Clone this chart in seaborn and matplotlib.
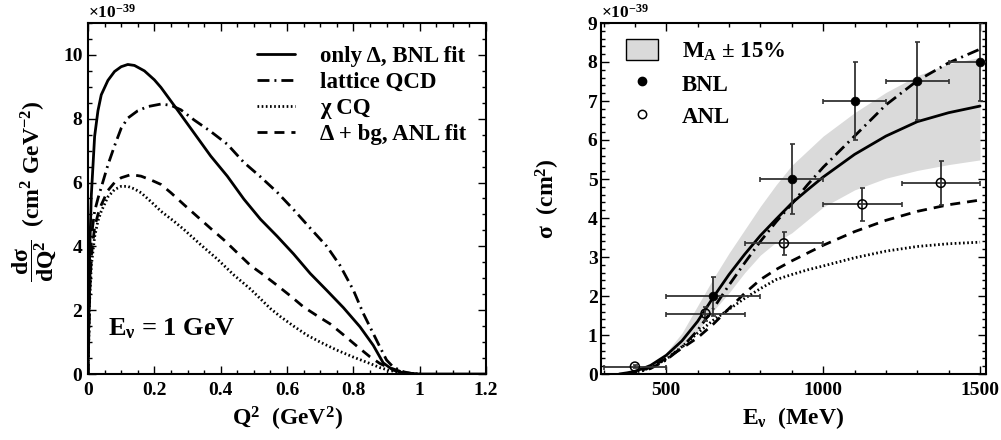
import numpy as np
import pandas as pd
import matplotlib
matplotlib.use("Agg")
import matplotlib.pyplot as plt
import seaborn as sns
from matplotlib.ticker import MultipleLocator
from matplotlib.lines import Line2D
from matplotlib.patches import Patch

# ---------------- left panel: dsigma/dQ^2 at E_nu = 1 GeV (units 1e-39) ----------------
q2_bnl = [0, 0.005, 0.01, 0.02, 0.03, 0.04, 0.06, 0.08, 0.10, 0.12, 0.14, 0.17, 0.20, 0.22,
          0.27, 0.32, 0.37, 0.42, 0.47, 0.52, 0.57, 0.62, 0.67, 0.72, 0.77, 0.82, 0.86, 0.89,
          0.92, 0.95, 0.98, 1.0, 1.2]
xs_bnl = [0, 3.8, 5.6, 7.45, 8.25, 8.75, 9.2, 9.48, 9.63, 9.7, 9.67, 9.5, 9.22, 8.98,
          8.27, 7.55, 6.83, 6.2, 5.48, 4.85, 4.32, 3.76, 3.15, 2.62, 2.08, 1.48, 0.9, 0.35,
          0.12, 0.04, 0.0, 0.0, 0.0]

q2_lqcd = [0, 0.005, 0.01, 0.02, 0.03, 0.04, 0.06, 0.08, 0.10, 0.12, 0.15, 0.18, 0.22, 0.25,
           0.28, 0.32, 0.37, 0.42, 0.47, 0.52, 0.57, 0.62, 0.67, 0.72, 0.76, 0.80, 0.83, 0.86,
           0.88, 0.90, 0.92, 0.95, 0.98, 1.0]
xs_lqcd = [0, 2.8, 4.3, 5.1, 5.5, 5.85, 6.55, 7.15, 7.7, 8.02, 8.25, 8.38, 8.46, 8.42,
           8.28, 7.96, 7.6, 7.2, 6.63, 6.18, 5.7, 5.15, 4.57, 4.0, 3.4, 2.63, 1.9, 1.27,
           0.85, 0.44, 0.22, 0.07, 0.01, 0.0]

q2_ccq = [0, 0.005, 0.01, 0.02, 0.03, 0.04, 0.06, 0.08, 0.10, 0.12, 0.14, 0.16, 0.19, 0.22,
          0.26, 0.29, 0.34, 0.39, 0.44, 0.49, 0.55, 0.58, 0.62, 0.66, 0.70, 0.75, 0.80, 0.85,
          0.88, 0.91, 0.94, 0.97, 1.0]
xs_ccq = [0, 2.3, 3.4, 4.3, 4.8, 5.1, 5.55, 5.78, 5.88, 5.88, 5.8, 5.68, 5.4, 5.1,
          4.78, 4.52, 4.05, 3.6, 3.1, 2.66, 2.05, 1.8, 1.5, 1.22, 1.0, 0.75, 0.53, 0.33,
          0.2, 0.11, 0.05, 0.01, 0.0]

q2_anl = [0, 0.005, 0.01, 0.02, 0.03, 0.04, 0.06, 0.08, 0.10, 0.13, 0.16, 0.19, 0.22, 0.25,
          0.29, 0.33, 0.37, 0.41, 0.45, 0.49, 0.53, 0.57, 0.61, 0.65, 0.69, 0.73, 0.77, 0.81,
          0.85, 0.88, 0.90, 0.92, 0.95, 0.98, 1.0]
xs_anl = [0, 2.5, 3.7, 4.6, 5.0, 5.3, 5.75, 6.0, 6.15, 6.25, 6.2, 6.08, 5.94, 5.68,
          5.3, 4.93, 4.56, 4.2, 3.8, 3.4, 3.1, 2.78, 2.45, 2.1, 1.83, 1.57, 1.23, 0.88,
          0.54, 0.33, 0.23, 0.16, 0.05, 0.01, 0.0]

left_labels = ["only Δ, BNL fit", "lattice QCD", "χ CQ", "Δ + bg, ANL fit"]

# ---------------- right panel: total cross section vs E_nu (units 1e-39 cm^2) ----------------
e_bnl = [350, 375, 400, 425, 450, 500, 550, 600, 650, 700, 750, 800, 850, 900, 950, 1000,
         1100, 1200, 1300, 1400, 1500]
sig_bnl = [0, 0.03, 0.07, 0.14, 0.22, 0.48, 0.85, 1.35, 1.97, 2.55, 3.07, 3.55, 3.97, 4.38,
           4.72, 5.05, 5.63, 6.1, 6.47, 6.7, 6.87]

e_lqcd = [370, 400, 450, 500, 550, 600, 650, 700, 750, 800, 850, 900, 950, 1000, 1100, 1200,
          1300, 1400, 1500]
sig_lqcd = [0, 0.03, 0.14, 0.36, 0.68, 1.12, 1.68, 2.28, 2.85, 3.4, 3.9, 4.36, 4.85, 5.3,
            6.1, 6.9, 7.52, 7.98, 8.33]

e_anl = [370, 400, 450, 500, 550, 600, 650, 700, 750, 800, 850, 900, 1000, 1100, 1200, 1300,
         1400, 1500]
sig_anl = [0, 0.04, 0.17, 0.4, 0.66, 0.93, 1.28, 1.68, 2.07, 2.42, 2.68, 2.9, 3.3, 3.65,
           3.94, 4.17, 4.34, 4.46]

e_ccq = [370, 400, 450, 500, 550, 600, 650, 700, 750, 800, 850, 900, 950, 1000, 1100, 1200,
         1300, 1400, 1500]
sig_ccq = [0, 0.04, 0.16, 0.38, 0.7, 1.05, 1.38, 1.66, 1.94, 2.19, 2.42, 2.55, 2.67, 2.77,
           2.98, 3.15, 3.27, 3.34, 3.38]

# M_A +- 15% band
e_band = [500, 550, 600, 650, 700, 750, 800, 850, 900, 1000, 1100, 1200, 1300, 1400, 1500]
band_hi = [0.55, 1.05, 1.75, 2.45, 3.1, 3.7, 4.3, 4.85, 5.35, 6.1, 6.7, 7.22, 7.65, 7.95, 8.12]
band_lo = [0.45, 0.72, 1.1, 1.62, 2.08, 2.6, 3.05, 3.38, 3.62, 4.28, 4.72, 5.02, 5.22, 5.37, 5.49]

# BNL data (filled) and ANL data (open)
bnl_e = [650, 900, 1100, 1300, 1500]
bnl_sig = [2.0, 5.0, 7.0, 7.5, 8.0]
bnl_xerr = [150, 100, 100, 100, 100]
bnl_yerr = [0.5, 0.9, 1.0, 1.0, 1.0]

anl_e = [400, 625, 875, 1125, 1375]
anl_sig = [0.19, 1.55, 3.35, 4.35, 4.9]
anl_xerr = [100, 125, 125, 125, 125]
anl_yerr = [0.03, 0.18, 0.3, 0.42, 0.56]

# ---------------- style ----------------
sns.set_theme(style="ticks")
plt.rcParams.update({
    "font.family": ["Liberation Serif", "DejaVu Serif"],
    "font.weight": "bold",
    "axes.labelweight": "bold",
    "mathtext.fontset": "custom",
    "mathtext.rm": "Liberation Serif:bold",
    "mathtext.it": "Liberation Serif:bold",
    "mathtext.bf": "Liberation Serif:bold",
    "mathtext.sf": "Liberation Serif",
    "mathtext.default": "rm",
    "axes.linewidth": 1.5,
    "axes.edgecolor": "black",
    "xtick.color": "black",
    "ytick.color": "black",
    "text.color": "black",
    "axes.labelcolor": "black",
})

LW = 2.0
LEG_FS = 16.5
dash_styles = {
    "solid": "-",
    "dashdot": (0, (4.3, 1.8, 0.7, 1.8)),
    "dotted": (0, (0.6, 0.9)),
    "dashed": (0, (3.6, 2.5)),
}

fig = plt.figure(figsize=(10.01, 4.40), dpi=100)
ax1 = fig.add_axes([88 / 1001, 66 / 440, 398 / 1001, 351 / 440])
ax2 = fig.add_axes([601 / 1001, 66 / 440, 385 / 1001, 351 / 440])


def style_axes(ax):
    ax.tick_params(which="both", direction="in", top=True, right=True,
                   labelsize=14, width=1.0)
    ax.tick_params(which="major", length=5.8)
    ax.tick_params(which="minor", length=2.9)
    for lab in ax.get_xticklabels() + ax.get_yticklabels():
        lab.set_fontweight("bold")


# ---- left panel ----
left_sets = [
    (q2_bnl, xs_bnl, "solid"),
    (q2_lqcd, xs_lqcd, "dashdot"),
    (q2_ccq, xs_ccq, "dotted"),
    (q2_anl, xs_anl, "dashed"),
]
for (q, v, st), lab in zip(left_sets, left_labels):
    df = pd.DataFrame({"Q2": q, "xs": v})
    sns.lineplot(data=df, x="Q2", y="xs", ax=ax1, color="black", lw=LW,
                 linestyle=dash_styles[st], legend=False, sort=False, label=lab,
                 estimator=None)

ax1.set_xlim(0, 1.2)
ax1.set_ylim(0, 11)
ax1.xaxis.set_major_locator(MultipleLocator(0.2))
ax1.xaxis.set_minor_locator(MultipleLocator(0.05))
ax1.yaxis.set_major_locator(MultipleLocator(2))
ax1.yaxis.set_minor_locator(MultipleLocator(0.5))
ax1.set_xticks([0, 0.2, 0.4, 0.6, 0.8, 1.0, 1.2])
ax1.set_xticklabels(["0", "0.2", "0.4", "0.6", "0.8", "1", "1.2"])
style_axes(ax1)
ax1.tick_params(axis="x", pad=6)
ax1.tick_params(axis="y", pad=4)

ax1.set_xlabel(r"Q$^{2}$  (GeV$^{2}$)", fontsize=17)
ax1.set_ylabel(r"$\dfrac{d\sigma}{dQ^{2}}$  (cm$^{2}$ GeV$^{-2}$)", fontsize=17)
ax1.xaxis.set_label_coords(0.5, -0.088)
ax1.yaxis.set_label_coords(-0.075, 0.52)

ax1.text(0.06, 1.22, r"E$_{\nu}$ = 1 GeV", fontsize=19, fontweight="bold",
         ha="left", va="baseline")
ax1.text(0.0, 1.004, r"$\mathsf{\times 10^{-39}}$", transform=ax1.transAxes,
         fontsize=12.5, ha="left", va="bottom")

ax1.legend(handles=ax1.lines[:4], labels=left_labels, loc="upper left",
           bbox_to_anchor=(0.425, 0.934), frameon=False, fontsize=LEG_FS,
           handlelength=1.66, handletextpad=1.09, labelspacing=0.22,
           borderpad=0, borderaxespad=0)

# ---- right panel ----
ax2.fill_between(e_band, band_lo, band_hi, color="#dadada", lw=0, zorder=1)

right_sets = [
    (e_bnl, sig_bnl, "solid"),
    (e_lqcd, sig_lqcd, "dashdot"),
    (e_ccq, sig_ccq, "dotted"),
    (e_anl, sig_anl, "dashed"),
]
for e, s, st in right_sets:
    df = pd.DataFrame({"E": e, "sig": s})
    sns.lineplot(data=df, x="E", y="sig", ax=ax2, color="black", lw=LW,
                 linestyle=dash_styles[st], legend=False, sort=False,
                 estimator=None, zorder=2)

ax2.errorbar(bnl_e, bnl_sig, xerr=bnl_xerr, yerr=bnl_yerr, fmt="none",
             ecolor="#333333", elinewidth=1.3, capsize=1.8, capthick=1.2, zorder=3)
ax2.errorbar(anl_e, anl_sig, xerr=anl_xerr, yerr=anl_yerr, fmt="none",
             ecolor="#333333", elinewidth=1.3, capsize=1.8, capthick=1.2, zorder=3)
sns.scatterplot(x=bnl_e, y=bnl_sig, ax=ax2, color="black", s=40, marker="o",
                edgecolor="black", linewidth=0.5, zorder=4, legend=False)
sns.scatterplot(x=anl_e, y=anl_sig, ax=ax2, facecolors="none", s=42, marker="o",
                edgecolor="black", linewidth=1.1, zorder=4, legend=False)

ax2.set_xlim(292, 1519)
ax2.set_ylim(0, 9)
ax2.xaxis.set_major_locator(MultipleLocator(500))
ax2.xaxis.set_minor_locator(MultipleLocator(100))
ax2.yaxis.set_major_locator(MultipleLocator(1))
ax2.yaxis.set_minor_locator(MultipleLocator(0.2))
style_axes(ax2)
ax2.tick_params(axis="x", pad=6)
ax2.tick_params(axis="y", pad=2.5)

ax2.set_xlabel(r"E$_{\nu}$  (MeV)", fontsize=17)
ax2.set_ylabel(r"σ  (cm$^{2}$)", fontsize=17)
ax2.xaxis.set_label_coords(0.5, -0.088)
ax2.yaxis.set_label_coords(-0.10, 0.5)
ax2.text(0.0, 1.004, r"$\mathsf{\times 10^{-39}}$", transform=ax2.transAxes,
         fontsize=12.5, ha="left", va="bottom")

handles2 = [
    Patch(facecolor="#dadada", edgecolor="black", linewidth=1.0),
    Line2D([], [], ls="none", marker="o", color="black", markersize=6),
    Line2D([], [], ls="none", marker="o", mfc="none", mec="black", markersize=6, mew=1.1),
]
labels2 = [r"M$_{\mathrm{A}}$ ± 15%", "BNL", "ANL"]
ax2.legend(handles=handles2, labels=labels2, loc="upper left",
           bbox_to_anchor=(0.065, 0.954), frameon=False, fontsize=LEG_FS,
           handlelength=1.4, handleheight=1.05, handletextpad=1.05,
           labelspacing=0.4, borderpad=0, borderaxespad=0)

fig.savefig("out.png", dpi=100)
